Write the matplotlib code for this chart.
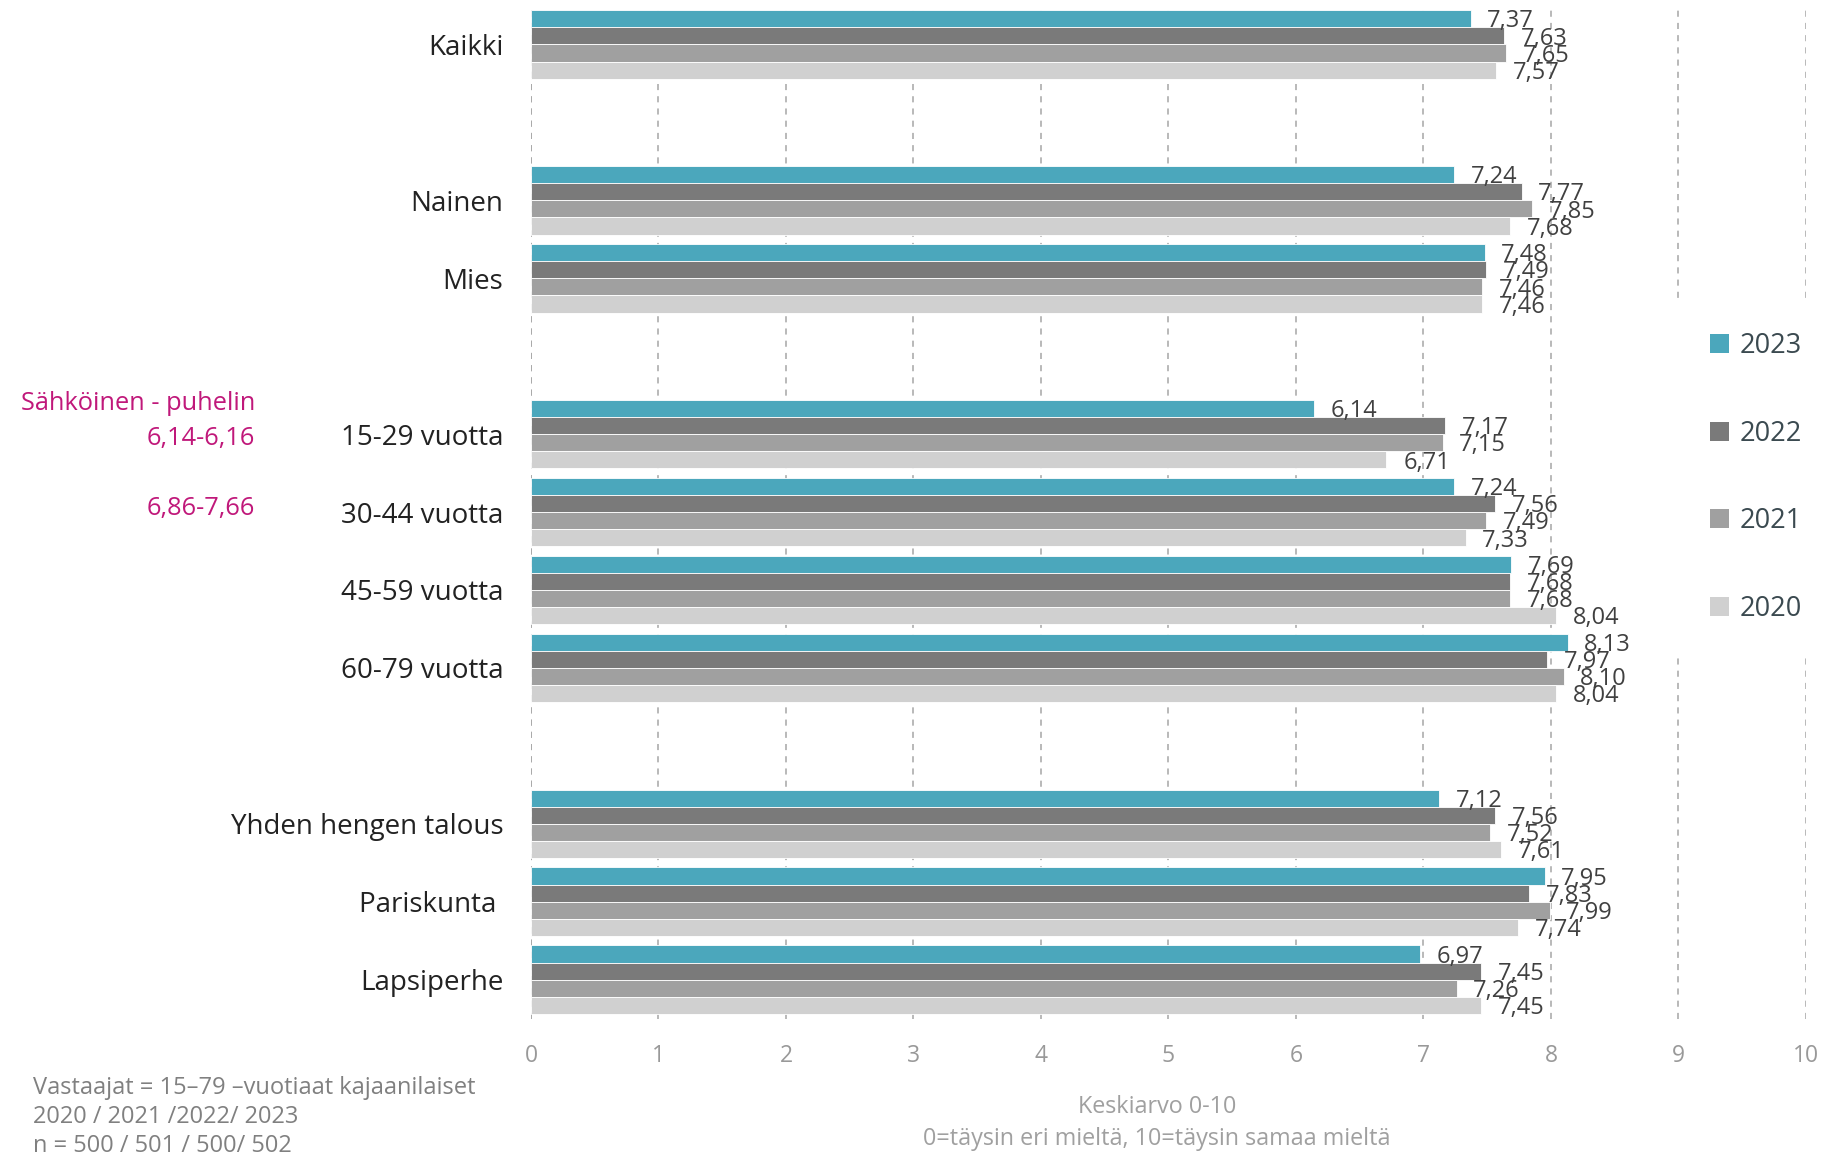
import numpy as np
import matplotlib
matplotlib.use("Agg")
import matplotlib.pyplot as plt
from matplotlib.patches import Patch

plt.rcParams['font.family'] = ['Open Sans', 'DejaVu Sans']

# --- data ---
# blank strings are the empty rows between groups
categories = ['Kaikki', '', 'Nainen', 'Mies', '',
              '15-29 vuotta', '30-44 vuotta', '45-59 vuotta', '60-79 vuotta', '',
              'Yhden hengen talous', 'Pariskunta ', 'Lapsiperhe']
years = ['2023', '2022', '2021', '2020']
v2023 = [7.37, None, 7.24, 7.48, None, 6.14, 7.24, 7.69, 8.13, None, 7.12, 7.95, 6.97]
v2022 = [7.63, None, 7.77, 7.49, None, 7.17, 7.56, 7.68, 7.97, None, 7.56, 7.83, 7.45]
v2021 = [7.65, None, 7.85, 7.46, None, 7.15, 7.49, 7.68, 8.10, None, 7.52, 7.99, 7.26]
v2020 = [7.57, None, 7.68, 7.46, None, 6.71, 7.33, 8.04, 8.04, None, 7.61, 7.74, 7.45]
series = [v2023, v2022, v2021, v2020]
colors = ['#4BA7BC', '#7A7A7A', '#A0A0A0', '#D0D0D0']

note_lines = ['Vastaajat = 15\u201379 \u2013vuotiaat kajaanilaiset',
              '2020 / 2021 /2022/ 2023',
              'n = 500 / 501 / 500/ 502']

# --- figure ---
fig = plt.figure(figsize=(18.31, 11.53), dpi=100)
ax = fig.add_axes([0.29, 0.1165, 0.6963, 0.8788])

y = np.arange(len(categories))
h = 0.22
offsets = [-1.5 * h, -0.5 * h, 0.5 * h, 1.5 * h]

for vals, col, off in zip(series, colors, offsets):
    for i, v in enumerate(vals):
        if v is None:
            continue
        ax.barh(y[i] + off, v, height=h, color=col, edgecolor='white',
                linewidth=0.6, zorder=2)
        ax.annotate(f"{v:.2f}".replace('.', ','), (v, y[i] + off),
                    xytext=(12, -2), textcoords='offset points',
                    ha='left', va='center', fontsize=17, color='#404040', zorder=3)

ax.set_xlim(0, 10)
ax.set_ylim(len(categories) - 0.5, -0.5)
ax.set_xticks(range(0, 11))
ax.set_yticks(y)
ax.set_yticklabels(categories, fontsize=20, color='#222222')
ax.tick_params(axis='y', length=0, pad=20)
ax.tick_params(axis='x', length=0, pad=18, labelsize=16.5, labelcolor='#999999')
for s in ax.spines.values():
    s.set_visible(False)
ax.grid(axis='x', linestyle=(0, (4, 4)), color='#A6A6A6', linewidth=1.1, zorder=0)
ax.axvline(0, linestyle=(0, (4, 4)), color='#A6A6A6', linewidth=1.1, zorder=0)

# x axis title
fig.text(0.632, 1 - 1107 / 1153, 'Keskiarvo 0-10', ha='center', va='center',
         fontsize=16.8, color='#A0A0A0')
fig.text(0.632, 1 - 1139 / 1153, '0=täysin eri mieltä, 10=täysin samaa mieltä',
         ha='center', va='center', fontsize=16.8, color='#A0A0A0')

# notes bottom left
for k, line in enumerate(note_lines):
    fig.text(33 / 1831, 1 - (1088 + 29 * k) / 1153, line, ha='left', va='center',
             fontsize=17, color='#808080')

# magenta annotations
mag = '#C0187A'
fig.text(255 / 1831, 1 - 403 / 1153, 'Sähköinen - puhelin', ha='right', va='center',
         fontsize=18.3, color=mag)
fig.text(255 / 1831, 1 - 438 / 1153, '6,14-6,16', ha='right', va='center',
         fontsize=18.3, color=mag)
fig.text(255 / 1831, 1 - 508 / 1153, '6,86-7,66', ha='right', va='center',
         fontsize=18.3, color=mag)

# legend
handles = [Patch(facecolor=c, edgecolor='none', label=l) for c, l in zip(colors, years)]
leg = fig.legend(handles=handles, loc='center left', bbox_to_anchor=(0.916, 0.586),
                 fontsize=19.5, frameon=True, facecolor='white', edgecolor='none',
                 framealpha=1, handlelength=0.7, handleheight=0.7,
                 handletextpad=0.4, labelspacing=2.2, borderpad=1.2,
                 borderaxespad=0, fancybox=False)
for t in leg.get_texts():
    t.set_color('#3B4A50')

fig.savefig('out.png', dpi=100)
